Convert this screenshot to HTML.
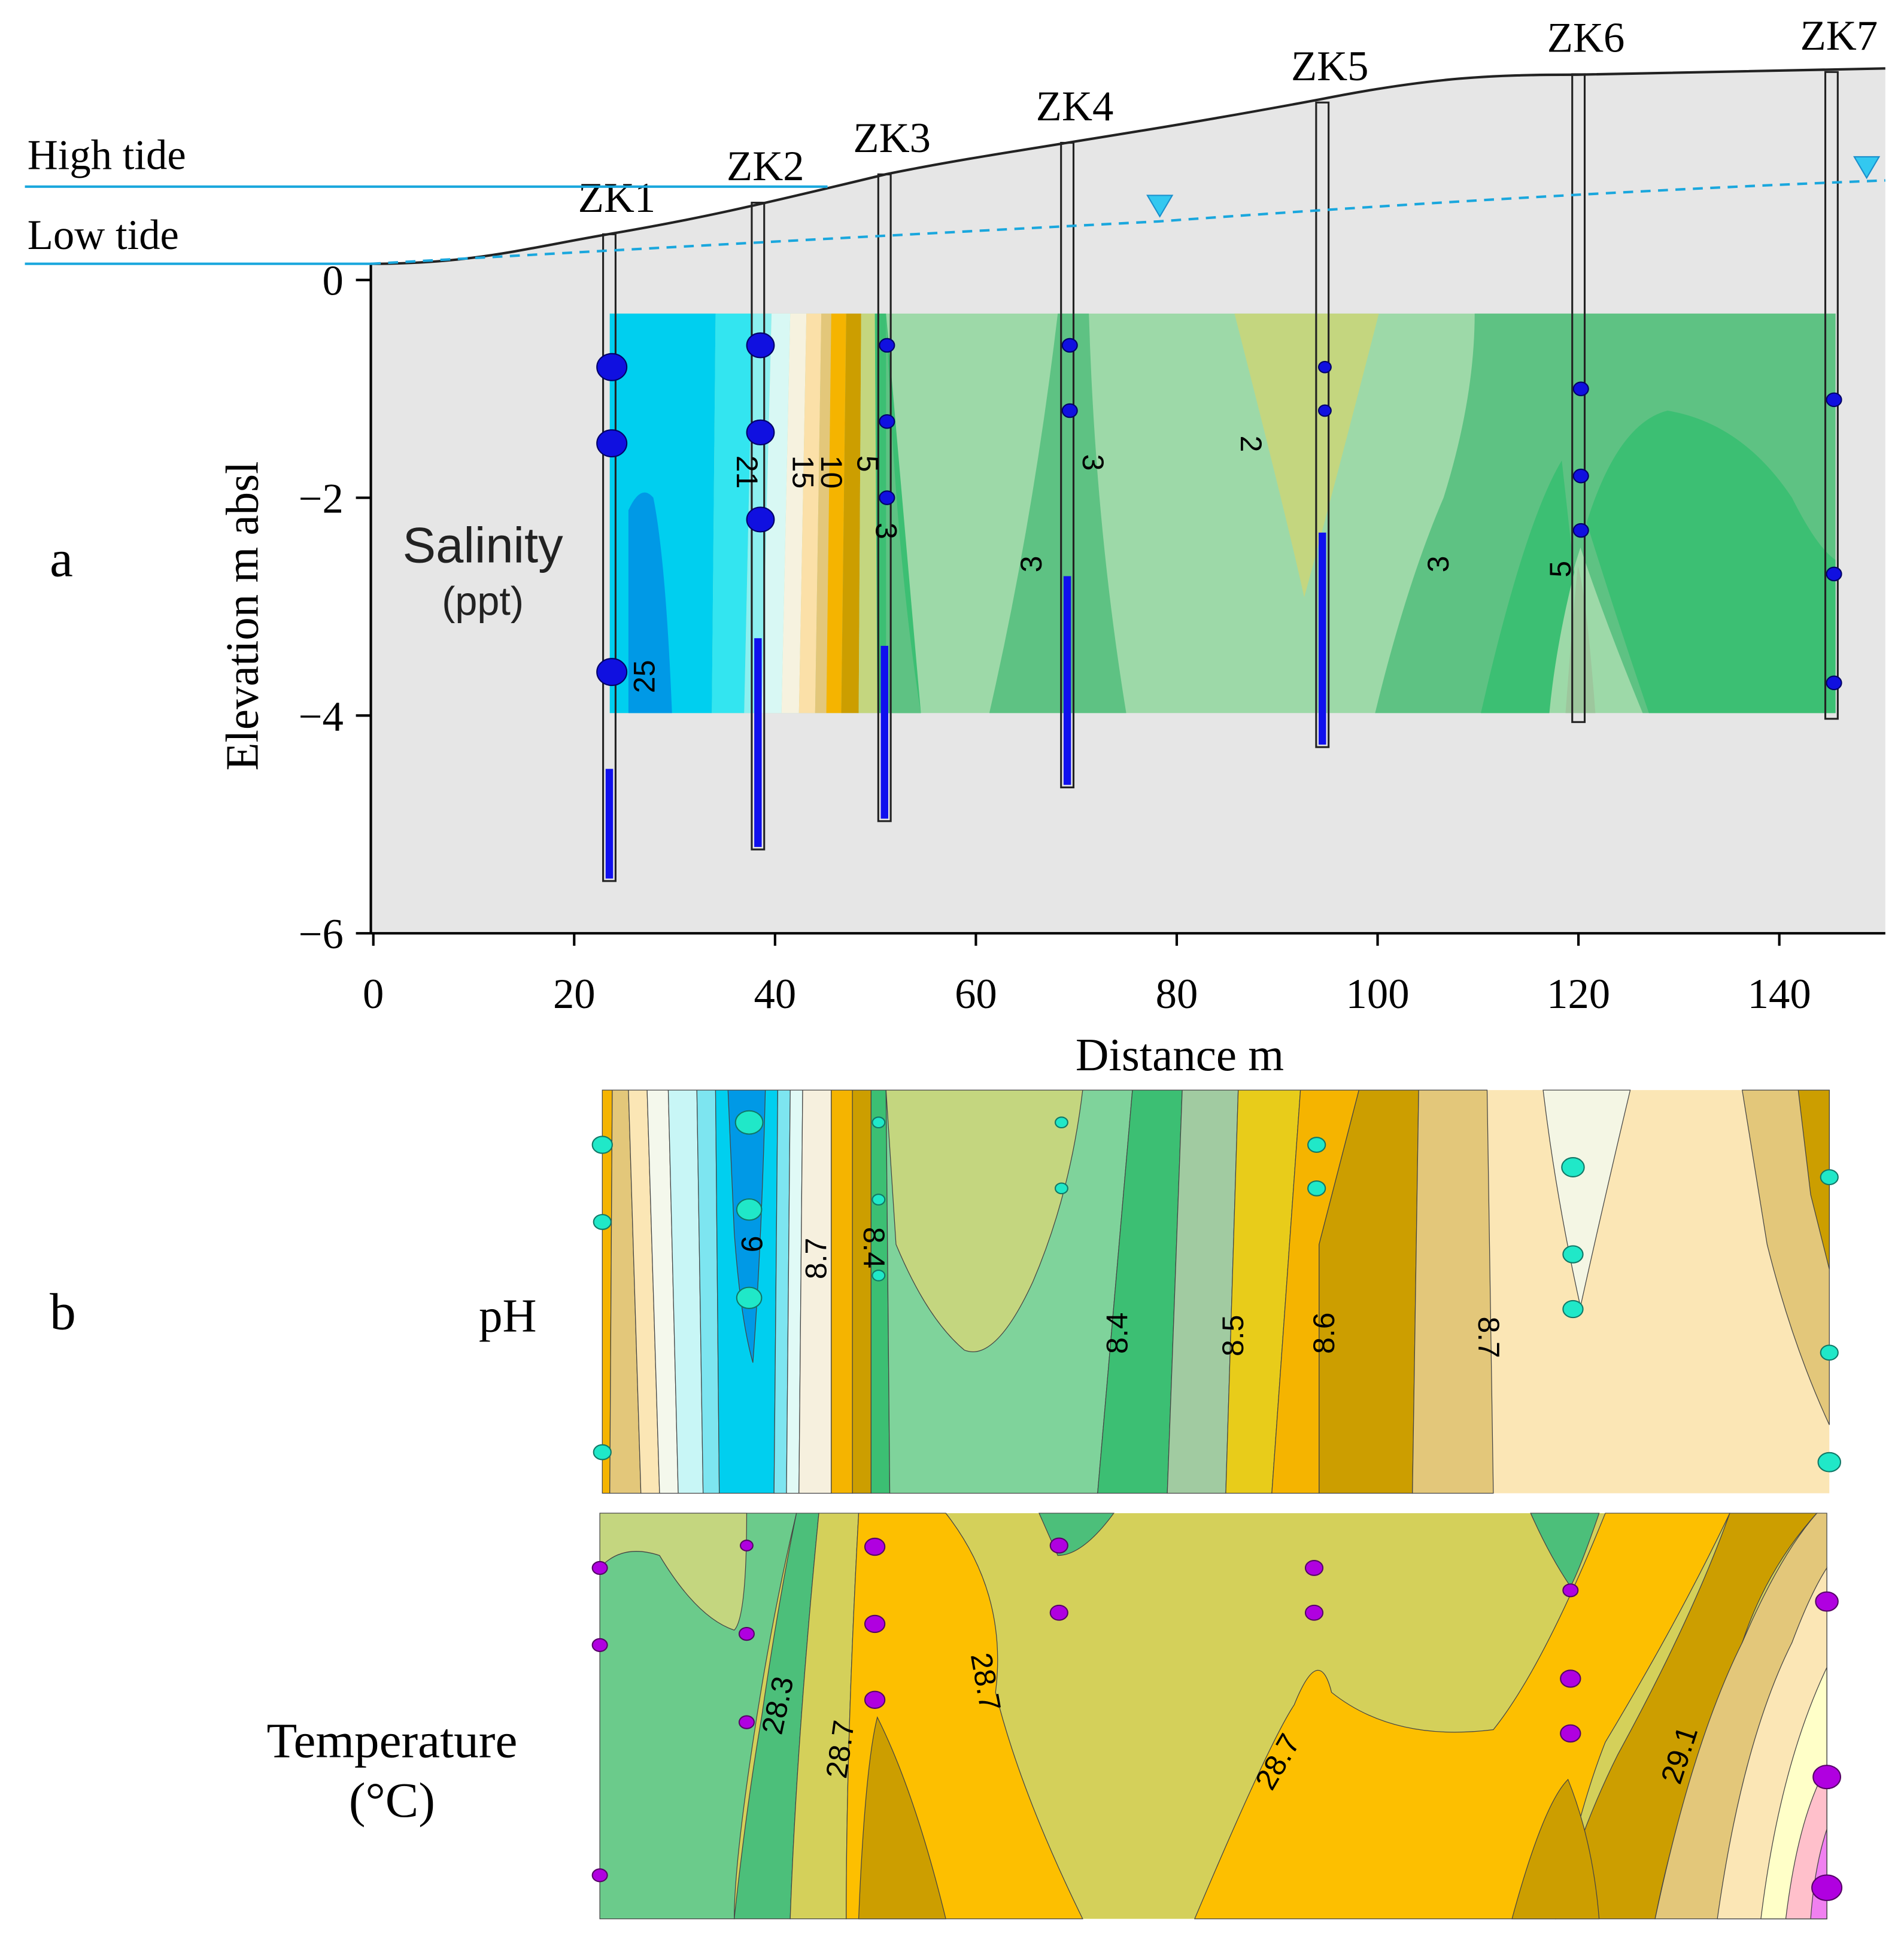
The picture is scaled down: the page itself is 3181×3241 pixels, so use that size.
<!DOCTYPE html>
<html><head><meta charset="utf-8"><style>
html,body{margin:0;padding:0;background:#fff}
svg{display:block}
.serif{font-family:"Liberation Serif",serif}
.sans{font-family:"Liberation Sans",sans-serif}
</style></head><body>
<svg id="chart" width="3181" height="3241" viewBox="0 0 1530 1559" preserveAspectRatio="none" xmlns="http://www.w3.org/2000/svg">
<rect width="1530" height="1559" fill="#fff"/>
<g id="panelA">
<path d="M298,212 C380,212 420,200 490,188 C560,176 600,167 712,140 C800,122 900,110 1060,80 C1150,62 1200,60 1268,60 L1515,55 L1515,750 L298,750 Z" fill="#e6e6e6" stroke="none"/>
<path d="M298,212 C380,212 420,200 490,188 C560,176 600,167 712,140 C800,122 900,110 1060,80 C1150,62 1200,60 1268,60 L1515,55" fill="none" stroke="#222" stroke-width="2"/>
<g>
<rect x="490" y="252" width="985" height="321" fill="#9dd9a8"/>
<polygon points="490,252 575,252 572,573 490,573" fill="#00cfef"/>
<path d="M505,573 L505,410 Q515,388 525,400 Q535,450 540,573 Z" fill="#0099e6"/>
<polygon points="575,252 605,252 598,573 572,573" fill="#33e5f0"/>
<polygon points="605,252 620,252 612,573 598,573" fill="#8cf0f0"/>
<polygon points="620,252 635,252 628,573 612,573" fill="#d8f8f4"/>
<polygon points="635,252 648,252 642,573 628,573" fill="#f6f2df"/>
<polygon points="648,252 660,252 655,573 642,573" fill="#fbe0a8"/>
<polygon points="660,252 668,252 664,573 655,573" fill="#e3c77a"/>
<polygon points="668,252 680,252 676,573 664,573" fill="#f5b400"/>
<polygon points="680,252 692,252 690,573 676,573" fill="#cc9e00"/>
<polygon points="692,252 703,252 705,573 690,573" fill="#c4d67f"/>
<polygon points="703,252 712,252 740,573 705,573" fill="#3cbf73"/>
<path d="M712,252 L712,573 L740,573 Q720,450 712,252 Z" fill="#5ec283"/>
<path d="M795,573 Q830,420 850,252 L875,252 Q880,420 905,573 Z" fill="#5ec283"/>
<path d="M992,252 L1108,252 Q1070,400 1048,480 Q1035,420 992,252 Z" fill="#c4d67f"/>
<path d="M1185,252 L1475,252 L1475,573 L1320,573 Q1290,500 1270,440 Q1250,500 1245,573 L1105,573 Q1130,470 1160,400 Q1185,320 1185,252 Z" fill="#5ec283"/>
<path d="M1190,573 Q1225,420 1255,370 L1265,460 Q1250,520 1245,573 Z" fill="#3cbf73"/>
<path d="M1275,420 Q1300,340 1340,330 Q1400,340 1440,400 Q1460,440 1475,450 L1475,573 L1325,573 Q1300,500 1275,420 Z" fill="#3cbf73"/>
<path d="M1258,573 Q1265,480 1268,455 Q1275,480 1282,573 Z" fill="#9dc79d"/>
</g>
<g id="axesA"></g>
<g id="bores"></g>
<line x1="20" y1="150" x2="665" y2="150" stroke="#1aa7dd" stroke-width="2"/>
<line x1="20" y1="212" x2="298" y2="212" stroke="#1aa7dd" stroke-width="2"/>
<path d="M298,212 Q600,195 930,178 Q1250,155 1515,145" fill="none" stroke="#1aa7dd" stroke-width="2" stroke-dasharray="8,6"/>
<polygon points="922,157 942,157 932,174" fill="#33c8f0" stroke="#1a8fcc"/>
<polygon points="1490,126 1510,126 1500,143" fill="#33c8f0" stroke="#1a8fcc"/>
<text class="serif" x="22" y="136" font-size="34">High tide</text>
<text class="serif" x="22" y="200" font-size="34">Low tide</text>
<text class="serif" x="40" y="463" font-size="42">a</text>
<text class="sans" x="388" y="452" font-size="40" text-anchor="middle" fill="#222">Salinity</text>
<text class="sans" x="388" y="494" font-size="32" text-anchor="middle" fill="#222">(ppt)</text>
<text class="serif" font-size="37" text-anchor="middle" transform="translate(207,495) rotate(-90)">Elevation m absl</text>
<text class="serif" x="948" y="860" font-size="37" text-anchor="middle">Distance m</text>
<g class="sans" font-size="24">
<text transform="translate(526,557) rotate(-90)">25</text>
<text transform="translate(592,366) rotate(90)">21</text>
<text transform="translate(637,366) rotate(90)">15</text>
<text transform="translate(660,366) rotate(90)">10</text>
<text transform="translate(689,366) rotate(90)">5</text>
<text transform="translate(704,420) rotate(90)">3</text>
<text transform="translate(870,365) rotate(90)">3</text>
<text transform="translate(837,460) rotate(-90)">3</text>
<text transform="translate(997,350) rotate(90)">2</text>
<text transform="translate(1164,460) rotate(-90)">3</text>
<text transform="translate(1262,464) rotate(-90)">5</text>
</g>
</g>
<g id="panelB">
<rect x="484" y="876" width="986" height="324" fill="#fbe6b5"/>
<g stroke="#444" stroke-width="0.6">
<polygon points="484,876 492,876 490,1200 484,1200" fill="#f5b400"/>
<polygon points="492,876 505,876 515,1200 490,1200" fill="#e3c77a"/>
<polygon points="505,876 520,876 530,1200 515,1200" fill="#fbe6b5"/>
<polygon points="520,876 537,876 545,1200 530,1200" fill="#f4f8ec"/>
<polygon points="537,876 560,876 565,1200 545,1200" fill="#c8f6f6"/>
<polygon points="560,876 575,876 578,1200 565,1200" fill="#7de5f0"/>
<polygon points="575,876 625,876 622,1200 578,1200" fill="#00cfef"/>
<path d="M585,876 L615,876 Q612,1000 605,1095 Q595,1060 590,990 Z" fill="#0099e6"/>
<polygon points="625,876 635,876 632,1200 622,1200" fill="#7de5f0"/>
<polygon points="635,876 645,876 642,1200 632,1200" fill="#e0faf6"/>
<polygon points="645,876 668,876 668,1200 642,1200" fill="#f6f0de"/>
<polygon points="668,876 685,876 685,1200 668,1200" fill="#f5b400"/>
<polygon points="685,876 700,876 700,1200 685,1200" fill="#cc9e00"/>
<polygon points="700,876 712,876 715,1200 700,1200" fill="#3cbf73"/>
<polygon points="712,876 910,876 882,1200 715,1200" fill="#7fd39b"/>
<path d="M712,876 L870,876 Q860,960 830,1030 Q800,1095 775,1085 Q745,1060 720,1000 Z" fill="#c4d67f"/>
<polygon points="910,876 950,876 938,1200 882,1200" fill="#3cbf73"/>
<polygon points="950,876 995,876 985,1200 938,1200" fill="#a1cba1"/>
<polygon points="995,876 1045,876 1022,1200 985,1200" fill="#e8cc1a"/>
<polygon points="1045,876 1092,876 1060,1000 1060,1200 1022,1200" fill="#f5b400"/>
<polygon points="1092,876 1140,876 1135,1200 1060,1200 1060,1000" fill="#cc9e00"/>
<polygon points="1140,876 1195,876 1200,1200 1135,1200" fill="#e3c77a"/>
<path d="M1240,876 L1310,876 Q1290,960 1270,1050 Q1250,960 1240,876 Z" fill="#f4f6e4"/>
<path d="M1400,876 L1445,876 L1470,876 L1470,1145 Q1440,1080 1420,1000 Z" fill="#e3c77a"/>
<polygon points="1445,876 1470,876 1470,1020 1455,960" fill="#cc9e00"/>
</g>
<g class="sans" font-size="24">
<text transform="translate(596,993) rotate(90)">9</text>
<text transform="translate(664,1028) rotate(-90)">8.7</text>
<text transform="translate(694,986) rotate(90)">8.4</text>
<text transform="translate(906,1088) rotate(-90)">8.4</text>
<text transform="translate(999,1090) rotate(-90)">8.5</text>
<text transform="translate(1072,1088) rotate(-90)">8.6</text>
<text transform="translate(1188,1058) rotate(90)">8.7</text>
</g>
<text class="serif" x="40" y="1068" font-size="42">b</text>
<text class="serif" x="408" y="1070" font-size="38" text-anchor="middle">pH</text>
<g id="phPts"></g>
</g>
<g id="panelC">
<rect x="482" y="1216" width="986" height="326" fill="#d4d05a"/>
<g stroke="#444" stroke-width="0.6">
<path d="M482,1216 L640,1216 Q620,1300 605,1400 Q590,1500 590,1542 L482,1542 Z" fill="#6bcb8b"/>
<path d="M482,1216 L600,1216 Q600,1300 590,1310 Q560,1300 530,1250 Q500,1240 482,1260 Z" fill="#c4d67f"/>
<path d="M640,1216 L658,1216 Q640,1400 635,1542 L590,1542 Q600,1450 612,1380 Q625,1290 640,1216 Z" fill="#4cbf7a"/>
<path d="M658,1216 L690,1216 Q680,1400 680,1542 L635,1542 Q640,1400 658,1216 Z" fill="#d4d05a"/>
<path d="M690,1216 L760,1216 Q810,1280 800,1360 Q820,1440 870,1542 L680,1542 Q680,1400 690,1216 Z" fill="#fdbf00"/>
<path d="M690,1542 Q695,1420 705,1380 Q735,1440 760,1542 Z" fill="#cc9e00"/>
<path d="M835,1216 L895,1216 Q870,1250 850,1250 Z" fill="#4cbf7a"/>
<path d="M960,1542 Q1020,1400 1040,1370 Q1060,1320 1070,1360 Q1120,1400 1200,1390 Q1240,1340 1290,1216 L1390,1216 Q1350,1300 1290,1400 Q1270,1450 1250,1542 Z" fill="#fdbf00"/>
<path d="M1230,1216 L1285,1216 Q1270,1260 1262,1275 Q1245,1250 1230,1216 Z" fill="#4cbf7a"/>
<path d="M1390,1216 L1460,1216 Q1420,1260 1400,1320 Q1350,1440 1330,1542 L1250,1542 Q1270,1470 1300,1410 Q1360,1300 1390,1216 Z" fill="#cc9e00"/>
<path d="M1215,1542 Q1240,1450 1260,1430 Q1280,1480 1285,1542 Z" fill="#cc9e00"/>
<path d="M1460,1216 L1468,1216 L1468,1542 L1330,1542 Q1360,1400 1400,1320 Q1430,1250 1460,1216 Z" fill="#e3c77a"/>
<path d="M1468,1260 L1468,1542 L1380,1542 Q1400,1400 1440,1320 Q1455,1280 1468,1260 Z" fill="#fbe6b5"/>
<path d="M1468,1340 L1468,1542 L1415,1542 Q1430,1420 1468,1340 Z" fill="#ffffc8"/>
<path d="M1468,1420 L1468,1542 L1435,1542 Q1445,1460 1468,1420 Z" fill="#ffc0cb"/>
<path d="M1468,1470 L1468,1542 L1455,1542 Q1458,1500 1468,1470 Z" fill="#f080f0"/>
</g>
<g class="sans" font-size="24">
<text transform="translate(628,1395) rotate(-78)">28.3</text>
<text transform="translate(680,1430) rotate(-82)">28.7</text>
<text transform="translate(780,1330) rotate(80)">28.7</text>
<text transform="translate(1022,1440) rotate(-60)">28.7</text>
<text transform="translate(1350,1435) rotate(-72)">29.1</text>
</g>
<text class="serif" x="315" y="1412" font-size="40" text-anchor="middle">Temperature</text>
<text class="serif" x="315" y="1460" font-size="40" text-anchor="middle">(°C)</text>
<g id="tPts"></g>
</g>
</svg>
<script>
const xTicks=[0,20,40,60,80,100,120,140];
const yTicks=[0,-2,-4,-6];
const boreNames=["ZK1","ZK2","ZK3","ZK4","ZK5","ZK6","ZK7"];
const boreDist=[23.5,38.3,50.9,69.1,94.5,120,145.2];
const boreTop=[0.42,0.71,0.97,1.26,1.63,1.89,1.91];
const boreBottom=[-5.52,-5.23,-4.97,-4.66,-4.29,-4.06,-4.03];
const screenTop=[-4.49,-3.29,-3.36,-2.72,-2.32,null,null];
const sampleBore=[0,0,0,1,1,1,2,2,2,3,3,4,4,5,5,5,6,6,6];
const sampleElev=[-0.8,-1.5,-3.6,-0.6,-1.4,-2.2,-0.6,-1.3,-2.0,-0.6,-1.2,-0.8,-1.2,-1.0,-1.8,-2.3,-1.1,-2.7,-3.7];
const sampleSize=[12,12,12,11,11,11,6,6,6,6,6,5,5,6,6,6,6,6,6];
const phX=[484,484,484,602,602,602,706,706,706,853,853,1058,1058,1264,1264,1264,1470,1470,1470];
const phY=[920,982,1167,902,972,1043,902,964,1025,902,955,920,955,938,1008,1052,946,1087,1175];
const phR=[8,7,7,11,10,10,5,5,5,5,5,7,7,9,8,8,7,7,9];
const tX=[482,482,482,600,600,600,703,703,703,851,851,1056,1056,1262,1262,1262,1468,1468,1468];
const tY=[1260,1322,1507,1242,1313,1384,1243,1305,1366,1242,1296,1260,1296,1278,1349,1393,1287,1428,1517];
const tR=[6,6,6,5,6,6,8,8,8,7,7,7,7,6,8,8,9,11,12];
const NS="http://www.w3.org/2000/svg";
function X(d){return 300+d*8.07;}
function Y(e){return 225-e*87.5;}
function mk(tag,attrs,parent){const el=document.createElementNS(NS,tag);for(const k in attrs)el.setAttribute(k,attrs[k]);parent.appendChild(el);return el;}
const ax=document.getElementById('axesA');
let l=mk('line',{x1:298,y1:212,x2:298,y2:750,stroke:'#000','stroke-width':2},ax);


l=mk('line',{x1:298,y1:750,x2:1515,y2:750,stroke:'#000','stroke-width':2},ax);


xTicks.forEach(v=>{const t=mk('line',{x1:X(v),y1:750,x2:X(v),y2:760,stroke:'#000','stroke-width':2},ax);


const tx=mk('text',{x:X(v),y:810,'font-size':34,'text-anchor':'middle','class':'serif'},ax);tx.textContent=v;

});
yTicks.forEach(v=>{const t=mk('line',{x1:286,y1:Y(v),x2:298,y2:Y(v),stroke:'#000','stroke-width':2},ax);


const tx=mk('text',{x:276,y:Y(v)+12,'font-size':34,'text-anchor':'end','class':'serif'},ax);tx.textContent=v===0?'0':'\u2212'+Math.abs(v);

});
const bg=document.getElementById('bores');
boreNames.forEach((n,i)=>{const x=X(boreDist[i]);
const r=mk('rect',{x:x-5,y:Y(boreTop[i]),width:10,height:Y(boreBottom[i])-Y(boreTop[i]),fill:'none',stroke:'#222','stroke-width':1.5},bg);


if(screenTop[i]!==null){const s=mk('rect',{x:x-3,y:Y(screenTop[i]),width:6,height:Y(boreBottom[i])-Y(screenTop[i])-2,fill:'#1010ee'},bg);

}
const t=mk('text',{x:x+6,y:Y(boreTop[i])-18,'font-size':34,'text-anchor':'middle','class':'serif'},bg);t.textContent=n;

});
sampleElev.forEach((e,i)=>{const c=mk('ellipse',{cx:X(boreDist[sampleBore[i]])+2,cy:Y(e),rx:sampleSize[i],ry:sampleSize[i]*0.9,fill:'#1010e0',stroke:'#000066'},bg);

});
const pg=document.getElementById('phPts');
phX.forEach((x,i)=>{const c=mk('ellipse',{cx:x,cy:phY[i],rx:phR[i],ry:phR[i]*0.85,fill:'#20e8c8',stroke:'#117766'},pg);

});
const tg=document.getElementById('tPts');
tX.forEach((x,i)=>{const c=mk('ellipse',{cx:x,cy:tY[i],rx:tR[i],ry:tR[i]*0.85,fill:'#b000e0',stroke:'#550066'},tg);

});
</script>
</body></html>
